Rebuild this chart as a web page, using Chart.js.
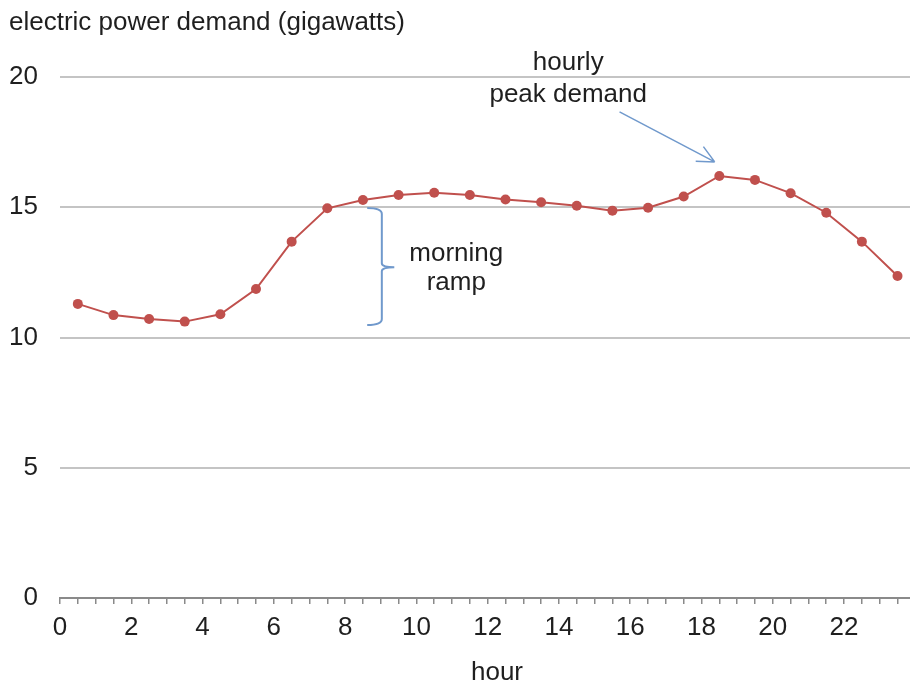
<!DOCTYPE html>
<html lang="en">
<head>
    <meta charset="UTF-8">
    <title>Electric power demand by hour</title>
    <script src="https://cdn.jsdelivr.net/npm/chart.js"></script>
    <style>
        html, body {
            margin: 0;
            padding: 0;
            background: #fff;
            overflow: hidden;
        }
        #wrap {
            position: relative;
            width: 910px;
            height: 683px;
        }
    </style>
</head>
<body>
    <div id="wrap">
        <canvas id="demandChart" width="910" height="683"></canvas>
    </div>

    <script>
        // hourly values, plotted at the middle of each hour
        const hours = [0.5, 1.5, 2.5, 3.5, 4.5, 5.5, 6.5, 7.5, 8.5, 9.5, 10.5, 11.5,
                       12.5, 13.5, 14.5, 15.5, 16.5, 17.5, 18.5, 19.5, 20.5, 21.5, 22.5, 23.5];
        const demand = [11.29, 10.86, 10.71, 10.61, 10.89, 11.86, 13.68, 14.96, 15.28, 15.47, 15.56, 15.47,
                        15.30, 15.19, 15.06, 14.87, 14.98, 15.41, 16.20, 16.05, 15.54, 14.79, 13.68, 12.36];
        const yTicks = [0, 5, 10, 15, 20];
        const xLabels = [0, 2, 4, 6, 8, 10, 12, 14, 16, 18, 20, 22];

        const FONT = '"Liberation Sans", Arial, sans-serif';
        const SIZE = 26;
        const TEXT = '#1f1f1f';
        const BLUE = '#7099cc';

        const notes = {
            id: 'notes',
            afterDraw(chart) {
                const ctx = chart.ctx;
                const x = chart.scales.x;
                const y = chart.scales.y;
                ctx.save();
                ctx.fillStyle = TEXT;
                ctx.font = SIZE + 'px ' + FONT;
                ctx.textBaseline = 'middle';

                ctx.textAlign = 'left';
                ctx.fillText('electric power demand (gigawatts)', 9, 23);
                ctx.textAlign = 'center';
                ctx.fillText('hour', 497, 673);

                // labels
                ctx.fillText('hourly', x.getPixelForValue(14.26), y.getPixelForValue(20.55));
                ctx.fillText('peak demand', x.getPixelForValue(14.26), y.getPixelForValue(19.33));
                ctx.fillText('morning', x.getPixelForValue(11.12), y.getPixelForValue(13.2));
                ctx.fillText('ramp', x.getPixelForValue(11.12), y.getPixelForValue(12.1));

                // curly brace for the ramp
                ctx.strokeStyle = BLUE;
                ctx.lineWidth = 2;
                const bx0 = x.getPixelForValue(8.62);
                const bx1 = x.getPixelForValue(9.03);
                const bx2 = x.getPixelForValue(9.38);
                const top = y.getPixelForValue(14.97);
                const mid = y.getPixelForValue(12.7);
                const bot = y.getPixelForValue(10.48);
                ctx.beginPath();
                ctx.moveTo(bx0, top);
                ctx.quadraticCurveTo(bx1, top, bx1, top + 6);
                ctx.lineTo(bx1, mid - 4);
                ctx.quadraticCurveTo(bx1, mid, bx2, mid);
                ctx.moveTo(bx2, mid);
                ctx.quadraticCurveTo(bx1, mid, bx1, mid + 4);
                ctx.lineTo(bx1, bot - 6);
                ctx.quadraticCurveTo(bx1, bot, bx0, bot);
                ctx.stroke();

                // arrow to the peak
                const ax0 = x.getPixelForValue(15.7), ay0 = y.getPixelForValue(18.66);
                const ax1 = x.getPixelForValue(18.37), ay1 = y.getPixelForValue(16.74);
                ctx.lineWidth = 1.5;
                ctx.beginPath();
                ctx.moveTo(ax0, ay0);
                ctx.lineTo(ax1, ay1);
                const ang = Math.atan2(ay1 - ay0, ax1 - ax0);
                const head = 19;
                ctx.moveTo(ax1, ay1);
                ctx.lineTo(ax1 - head * Math.cos(ang - 0.45), ay1 - head * Math.sin(ang - 0.45));
                ctx.moveTo(ax1, ay1);
                ctx.lineTo(ax1 - head * Math.cos(ang + 0.45), ay1 - head * Math.sin(ang + 0.45));
                ctx.stroke();
                ctx.restore();
            }
        };

        new Chart(document.getElementById('demandChart'), {
            type: 'line',
            data: {
                datasets: [{
                    data: hours.map((h, i) => ({ x: h, y: demand[i] })),
                    borderColor: '#c0504d',
                    backgroundColor: '#c0504d',
                    borderWidth: 2,
                    pointRadius: 5,
                    pointBorderWidth: 0,
                    tension: 0
                }]
            },
            options: {
                responsive: false,
                animation: false,
                layout: { autoPadding: false, padding: { top: 77, right: 0, bottom: 0, left: 0 } },
                plugins: {
                    legend: { display: false },
                    tooltip: { enabled: false }
                },
                scales: {
                    x: {
                        type: 'linear',
                        min: 0,
                        max: 23.85,
                        afterFit: s => { s.height = 85; },
                        border: { display: true, color: '#8a8a8a', width: 2 },
                        grid: {
                            drawOnChartArea: false,
                            drawTicks: true,
                            tickLength: 6,
                            color: '#8a8a8a',
                            lineWidth: 1.5
                        },
                        ticks: {
                            stepSize: 0.5,
                            includeBounds: false,
                            autoSkip: false,
                            maxRotation: 0,
                            padding: 8,
                            color: TEXT,
                            font: { family: FONT, size: SIZE },
                            callback: v => xLabels.includes(v) ? String(v) : ''
                        }
                    },
                    y: {
                        min: 0,
                        max: 20,
                        afterFit: s => { s.width = 60; },
                        afterBuildTicks: s => { s.ticks = yTicks.map(v => ({ value: v })); },
                        border: { display: false },
                        grid: {
                            drawTicks: false,
                            color: '#c4c4c4',
                            lineWidth: 2
                        },
                        ticks: {
                            padding: 22,
                            color: TEXT,
                            font: { family: FONT, size: SIZE }
                        }
                    }
                }
            },
            plugins: [notes]
        });
    </script>
</body>
</html>
